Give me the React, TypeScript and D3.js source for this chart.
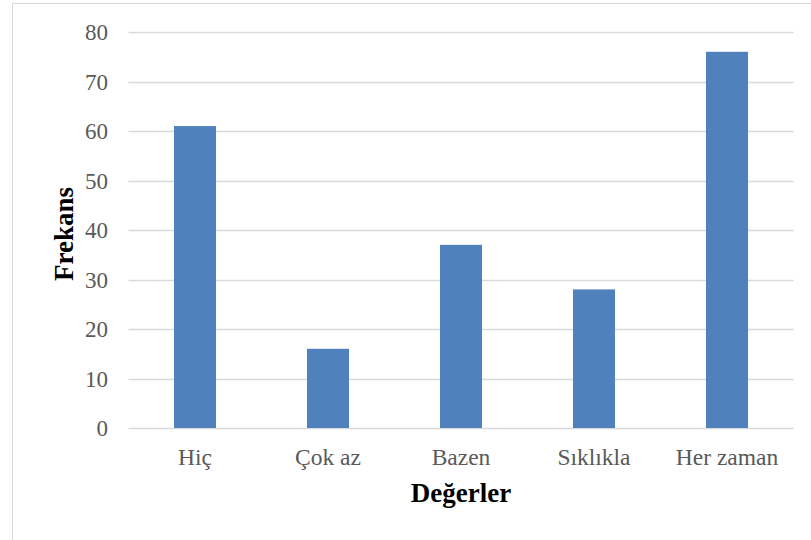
import React from "react";
import * as d3 from "d3";

const categories: string[] = ["Hiç", "Çok az", "Bazen", "Sıklıkla", "Her zaman"];
const frequencies: number[] = [61, 16, 37, 28, 76];
const yTicks: number[] = [0, 10, 20, 30, 40, 50, 60, 70, 80];
const xTitle = "Değerler";
const yTitle = "Frekans";

const W = 811;
const H = 540;
const plot = { left: 128.5, right: 793.5, top: 32, bottom: 428 };
const font = "'Liberation Serif', 'Times New Roman', serif";
const barColor = "#4F81BD";
const textGray = "#595959";

export default function App() {
  const x = d3
    .scaleBand<string>()
    .domain(categories)
    .range([plot.left, plot.right])
    .paddingInner(0.684)
    .paddingOuter(0.342);
  const y = d3.scaleLinear().domain([0, 80]).range([plot.bottom, plot.top]);

  return (
    <svg
      width={W}
      height={H}
      style={{ position: "absolute", left: 0, top: 0, background: "#fff" }}
    >
      {/* chart frame */}
      <rect x={12.5} y={3.5} width={W} height={H} fill="none" stroke="#d9d9d9" strokeWidth={1} />

      {/* gridlines */}
      {yTicks.map((t) => (
        <line
          key={t}
          x1={plot.left}
          x2={plot.right}
          y1={Math.round(y(t)) + 0.5}
          y2={Math.round(y(t)) + 0.5}
          stroke="#d9d9d9"
          strokeWidth={t === 0 ? 1.5 : 1.5}
        />
      ))}

      {/* bars */}
      {categories.map((c, i) => (
        <rect
          key={c}
          x={x(c)}
          y={y(frequencies[i])}
          width={x.bandwidth()}
          height={y(0) - y(frequencies[i])}
          fill={barColor}
        />
      ))}

      {/* y tick labels */}
      {yTicks.map((t) => (
        <text
          key={t}
          x={108}
          y={y(t) + 8}
          textAnchor="end"
          fontFamily={font}
          fontSize={23}
          fill={textGray}
        >
          {t}
        </text>
      ))}

      {/* x category labels */}
      {categories.map((c) => (
        <text
          key={c}
          x={(x(c) as number) + x.bandwidth() / 2}
          y={464.5}
          textAnchor="middle"
          fontFamily={font}
          fontSize={23.5}
          fill={textGray}
        >
          {c}
        </text>
      ))}

      {/* axis titles */}
      <text
        x={461}
        y={501.5}
        textAnchor="middle"
        fontFamily={font}
        fontSize={27}
        fontWeight="bold"
        fill="#000"
      >
        {xTitle}
      </text>
      <text
        transform={`translate(72.5, 234) rotate(-90)`}
        textAnchor="middle"
        fontFamily={font}
        fontSize={27}
        fontWeight="bold"
        fill="#000"
      >
        {yTitle}
      </text>
    </svg>
  );
}
